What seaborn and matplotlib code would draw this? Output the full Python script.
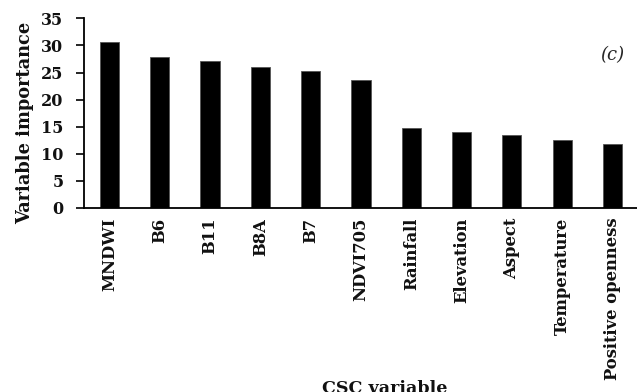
import matplotlib
matplotlib.use("Agg")
import matplotlib.pyplot as plt
from matplotlib.ticker import FixedLocator, NullFormatter
import seaborn as sns
import pandas as pd

variables = ["MNDWI", "B6", "B11", "B8A", "B7", "NDVI705", "Rainfall",
             "Elevation", "Aspect", "Temperature", "Positive openness"]
importance = [30.6, 27.8, 27.1, 26.1, 25.3, 23.6, 14.7, 14.05, 13.4, 12.5, 11.8]
y_ticks = [0, 5, 10, 15, 20, 25, 30, 35]

sns.set_style("white")
plt.rcParams["font.family"] = ["DejaVu Serif"]

df = pd.DataFrame({"variable": variables, "importance": importance})

fig = plt.figure(figsize=(6.37, 3.92), dpi=100)
ax = fig.add_axes([84.3 / 637, (392 - 208) / 392, (637.6 - 84.3) / 637, (208 - 18.3) / 392])

sns.barplot(data=df, x="variable", y="importance", color="black",
            width=0.38, edgecolor="#555555", linewidth=0.6, ax=ax, saturation=1)

ax.set_xlim(-0.5, len(variables) - 0.5)
ax.set_ylim(0, 35)
ax.set_yticks(y_ticks)
ax.set_yticklabels([str(t) for t in y_ticks], fontsize=11.5, fontweight="bold", color="#111111")

# labels centred on bars, tick marks on category boundaries
ax.set_xticks(range(len(variables)))
ax.set_xticklabels(variables, rotation=90, fontsize=11.8, fontweight="bold", color="#111111")
ax.xaxis.set_minor_locator(FixedLocator([i - 0.5 for i in range(len(variables) + 1)]))
ax.xaxis.set_minor_formatter(NullFormatter())
ax.tick_params(axis="x", which="major", length=0, pad=7)
ax.tick_params(axis="x", which="minor", length=5, width=1.2, direction="out", color="black")
ax.tick_params(axis="y", length=6, width=1.2, direction="out", color="black", pad=9, left=True)

for side in ["top", "right"]:
    ax.spines[side].set_visible(False)
for side in ["left", "bottom"]:
    ax.spines[side].set_color("black")
    ax.spines[side].set_linewidth(1.3)

ax.set_ylabel("Variable importance", fontsize=12.8, fontweight="bold", color="#111111")
ax.yaxis.set_label_coords((34 - 84.3) / 553.3, (208 - 123) / 189.7)
ax.set_xlabel("CSC variable", fontsize=12.6, fontweight="bold", color="#111111")
ax.xaxis.set_label_coords((385 - 84.3) / 553.3, -(380 - 208) / 189.7)
ax.xaxis.label.set_va("top")

ax.text(0.955, 0.806, "(c)", transform=ax.transAxes, fontsize=13,
        fontstyle="italic", ha="center", va="center")

fig.savefig("out.png", dpi=100)
